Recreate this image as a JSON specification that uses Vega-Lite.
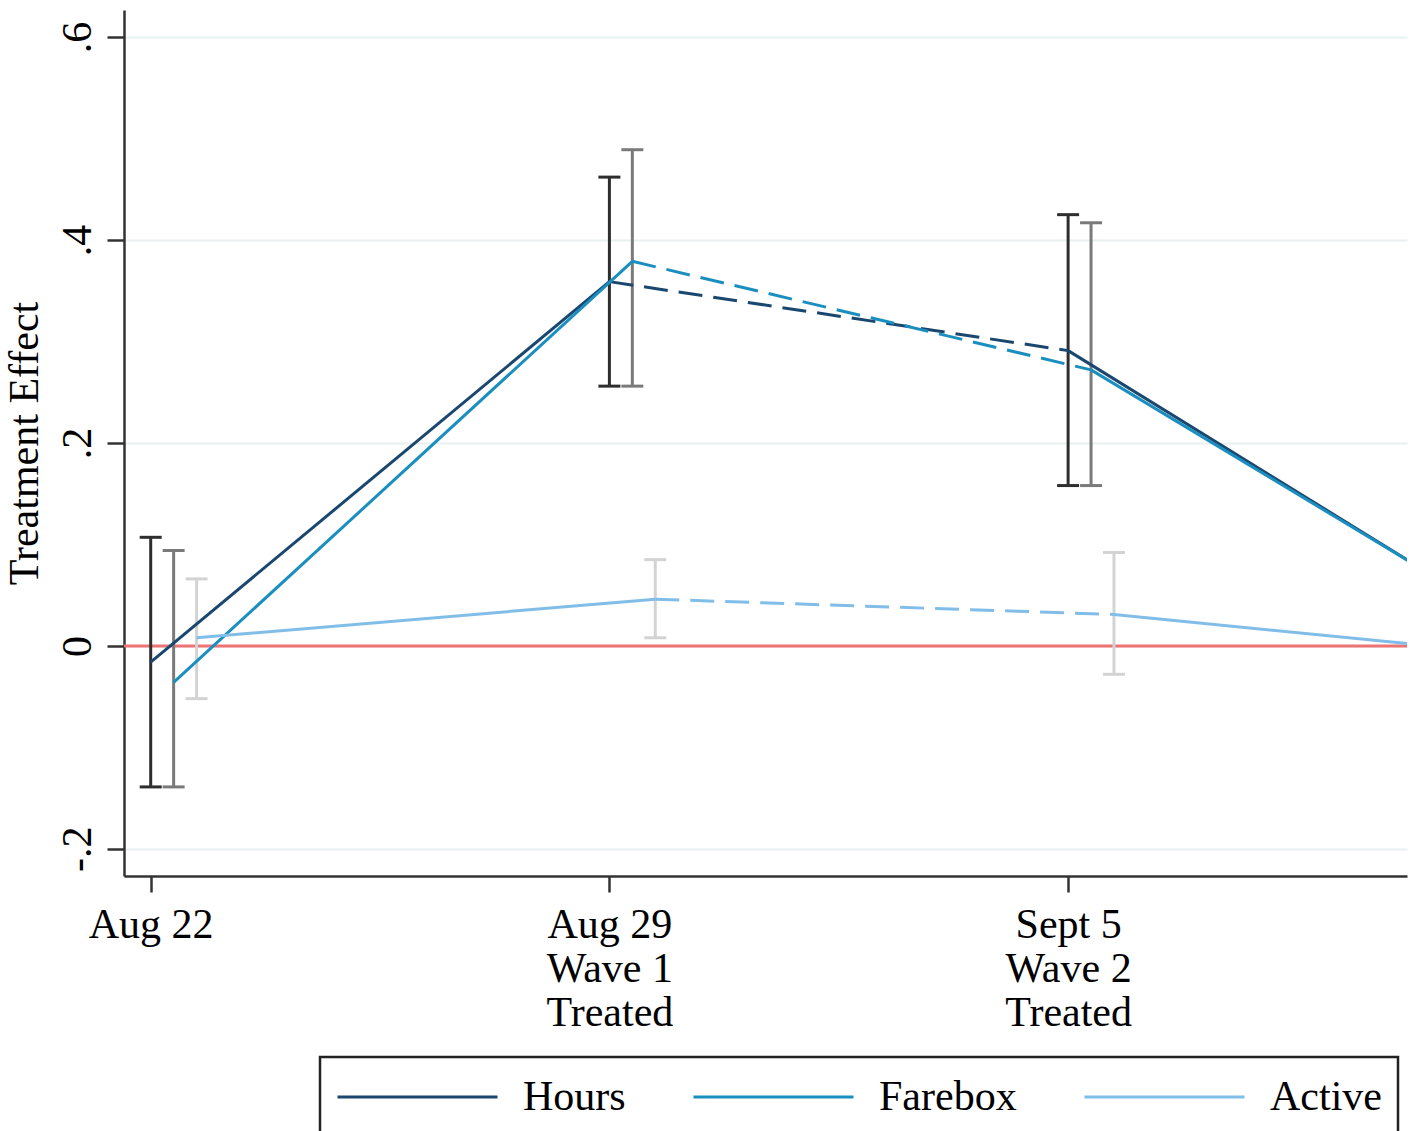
{
  "$schema": "https://vega.github.io/schema/vega-lite/v6.json",
  "width": 1283,
  "height": 866,
  "autosize": {"type": "none"},
  "padding": {"left": 124, "top": 10, "right": 7, "bottom": 255},
  "background": "white",
  "data": {
    "values": [
      {"series": "Hours", "band": "Hours CI", "week": "Aug 22", "half": "pre", "pos": 0, "est": -0.016, "lo": -0.139, "hi": 0.107},
      {"series": "Hours", "band": "Hours CI", "week": "Aug 29", "half": "pre", "pos": 1, "est": 0.359, "lo": 0.256, "hi": 0.462},
      {"series": "Hours", "band": "Hours CI", "week": "Sept 5", "half": "post", "pos": 2, "est": 0.291, "lo": 0.158, "hi": 0.425},
      {"series": "Hours", "band": "Hours CI", "week": "Sept 12", "half": "post", "pos": 3, "est": 0.012, "lo": null, "hi": null},
      {"series": "Farebox", "band": "Farebox CI", "week": "Aug 22", "half": "pre", "pos": 0.05, "est": -0.036, "lo": -0.139, "hi": 0.094},
      {"series": "Farebox", "band": "Farebox CI", "week": "Aug 29", "half": "pre", "pos": 1.05, "est": 0.379, "lo": 0.256, "hi": 0.489},
      {"series": "Farebox", "band": "Farebox CI", "week": "Sept 5", "half": "post", "pos": 2.05, "est": 0.272, "lo": 0.158, "hi": 0.417},
      {"series": "Farebox", "band": "Farebox CI", "week": "Sept 12", "half": "post", "pos": 3.05, "est": 0.0, "lo": null, "hi": null},
      {"series": "Active", "band": "Active CI", "week": "Aug 22", "half": "pre", "pos": 0.1, "est": 0.008, "lo": -0.052, "hi": 0.066},
      {"series": "Active", "band": "Active CI", "week": "Aug 29", "half": "pre", "pos": 1.1, "est": 0.046, "lo": 0.008, "hi": 0.085},
      {"series": "Active", "band": "Active CI", "week": "Sept 5", "half": "post", "pos": 2.1, "est": 0.031, "lo": -0.028, "hi": 0.092},
      {"series": "Active", "band": "Active CI", "week": "Sept 12", "half": "post", "pos": 3.1, "est": -0.014, "lo": null, "hi": null}
    ]
  },
  "layer": [
    {
      "data": {"values": [{"ref": 0}]},
      "mark": {"type": "rule", "color": "#ee7373", "strokeWidth": 3},
      "encoding": {
        "y": {"field": "ref", "type": "quantitative", "title": "Treatment Effect",
          "scale": {"domain": [-0.2268, 0.6267], "nice": false, "zero": false},
          "axis": {"values": [-0.2, 0, 0.2, 0.4, 0.6], "grid": true, "gridColor": "#e8f0f0", "gridWidth": 2, "gridOpacity": 1,
            "tickSize": 17, "labelPadding": 17, "labelAngle": 270, "labelAlign": "center", "labelBaseline": "alphabetic",
            "labelFlush": false, "labelOverlap": false, "labelBound": false, "titlePadding": 10,
            "labelExpr": "datum.value == 0 ? '0' : (datum.value < 0 ? '-' : '') + '.' + format(abs(datum.value) * 10, '.0f')"}}
      }
    },
    {
      "transform": [{"filter": "isValid(datum.lo)"}],
      "mark": {"type": "rule", "strokeWidth": 3, "opacity": 1},
      "encoding": {
        "x": {"field": "pos", "type": "quantitative", "title": null,
          "scale": {"domain": [-0.0582, 2.7388], "nice": false, "zero": false},
          "axis": {"values": [0, 1, 2], "grid": false, "tickSize": 16, "labelPadding": 12, "labelFlush": false, "labelOverlap": false, "labelBound": false,
            "labelBaseline": "top", "labelAlign": "center", "labelLineHeight": 44,
            "labelExpr": "datum.value == 0 ? 'Aug 22' : datum.value == 1 ? ['Aug 29', 'Wave 1', 'Treated'] : ['Sept 5', 'Wave 2', 'Treated']"}},
        "y": {"field": "lo", "type": "quantitative", "title": "Treatment Effect",
          "scale": {"domain": [-0.2268, 0.6267], "nice": false, "zero": false},
          "axis": {"values": [-0.2, 0, 0.2, 0.4, 0.6], "grid": true, "gridColor": "#e8f0f0", "gridWidth": 2, "gridOpacity": 1,
            "tickSize": 17, "labelPadding": 17, "labelAngle": 270, "labelAlign": "center", "labelBaseline": "alphabetic",
            "labelFlush": false, "labelOverlap": false, "labelBound": false, "titlePadding": 10,
            "labelExpr": "datum.value == 0 ? '0' : (datum.value < 0 ? '-' : '') + '.' + format(abs(datum.value) * 10, '.0f')"}},
        "y2": {"field": "hi"},
        "color": {"field": "band", "type": "nominal",
          "scale": {"domain": ["Hours", "Farebox", "Active", "Hours CI", "Farebox CI", "Active CI"], "range": ["#1a476f", "#1b8ec0", "#80bde8", "#2e2e2e", "#7a7a7a", "#d3d3d3"]},
          "legend": {"orient": "none", "legendX": 196, "legendY": 1047, "direction": "horizontal", "title": null,
            "values": ["Hours", "Farebox", "Active"], "symbolType": "stroke", "symbolSize": 25600, "symbolStrokeWidth": 3, "symbolOpacity": 1,
            "clipHeight": 48, "labelOffset": 24, "columnPadding": 66, "padding": 16, "symbolOffset": 0,
            "strokeColor": "#222222", "fillColor": "white", "labelFont": "Liberation Serif", "labelFontSize": 42, "labelColor": "black"}}
      }
    },
    {
      "transform": [{"filter": "isValid(datum.lo)"}],
      "mark": {"type": "tick", "orient": "horizontal", "size": 22, "thickness": 3, "opacity": 1},
      "encoding": {
        "x": {"field": "pos", "type": "quantitative", "title": null,
          "scale": {"domain": [-0.0582, 2.7388], "nice": false, "zero": false},
          "axis": {"values": [0, 1, 2], "grid": false, "tickSize": 16, "labelPadding": 12, "labelFlush": false, "labelOverlap": false, "labelBound": false,
            "labelBaseline": "top", "labelAlign": "center", "labelLineHeight": 44,
            "labelExpr": "datum.value == 0 ? 'Aug 22' : datum.value == 1 ? ['Aug 29', 'Wave 1', 'Treated'] : ['Sept 5', 'Wave 2', 'Treated']"}},
        "y": {"field": "lo", "type": "quantitative", "title": "Treatment Effect",
          "scale": {"domain": [-0.2268, 0.6267], "nice": false, "zero": false},
          "axis": {"values": [-0.2, 0, 0.2, 0.4, 0.6], "grid": true, "gridColor": "#e8f0f0", "gridWidth": 2, "gridOpacity": 1,
            "tickSize": 17, "labelPadding": 17, "labelAngle": 270, "labelAlign": "center", "labelBaseline": "alphabetic",
            "labelFlush": false, "labelOverlap": false, "labelBound": false, "titlePadding": 10,
            "labelExpr": "datum.value == 0 ? '0' : (datum.value < 0 ? '-' : '') + '.' + format(abs(datum.value) * 10, '.0f')"}},
        "color": {"field": "band", "type": "nominal",
          "legend": {"orient": "none", "legendX": 196, "legendY": 1047, "direction": "horizontal", "title": null,
            "values": ["Hours", "Farebox", "Active"], "symbolType": "stroke", "symbolSize": 25600, "symbolStrokeWidth": 3, "symbolOpacity": 1,
            "clipHeight": 48, "labelOffset": 24, "columnPadding": 66, "padding": 16, "symbolOffset": 0,
            "strokeColor": "#222222", "fillColor": "white", "labelFont": "Liberation Serif", "labelFontSize": 42, "labelColor": "black"}}
      }
    },
    {
      "transform": [{"filter": "isValid(datum.hi)"}],
      "mark": {"type": "tick", "orient": "horizontal", "size": 22, "thickness": 3, "opacity": 1},
      "encoding": {
        "x": {"field": "pos", "type": "quantitative", "title": null,
          "scale": {"domain": [-0.0582, 2.7388], "nice": false, "zero": false},
          "axis": {"values": [0, 1, 2], "grid": false, "tickSize": 16, "labelPadding": 12, "labelFlush": false, "labelOverlap": false, "labelBound": false,
            "labelBaseline": "top", "labelAlign": "center", "labelLineHeight": 44,
            "labelExpr": "datum.value == 0 ? 'Aug 22' : datum.value == 1 ? ['Aug 29', 'Wave 1', 'Treated'] : ['Sept 5', 'Wave 2', 'Treated']"}},
        "y": {"field": "hi", "type": "quantitative", "title": "Treatment Effect",
          "scale": {"domain": [-0.2268, 0.6267], "nice": false, "zero": false},
          "axis": {"values": [-0.2, 0, 0.2, 0.4, 0.6], "grid": true, "gridColor": "#e8f0f0", "gridWidth": 2, "gridOpacity": 1,
            "tickSize": 17, "labelPadding": 17, "labelAngle": 270, "labelAlign": "center", "labelBaseline": "alphabetic",
            "labelFlush": false, "labelOverlap": false, "labelBound": false, "titlePadding": 10,
            "labelExpr": "datum.value == 0 ? '0' : (datum.value < 0 ? '-' : '') + '.' + format(abs(datum.value) * 10, '.0f')"}},
        "color": {"field": "band", "type": "nominal",
          "legend": {"orient": "none", "legendX": 196, "legendY": 1047, "direction": "horizontal", "title": null,
            "values": ["Hours", "Farebox", "Active"], "symbolType": "stroke", "symbolSize": 25600, "symbolStrokeWidth": 3, "symbolOpacity": 1,
            "clipHeight": 48, "labelOffset": 24, "columnPadding": 66, "padding": 16, "symbolOffset": 0,
            "strokeColor": "#222222", "fillColor": "white", "labelFont": "Liberation Serif", "labelFontSize": 42, "labelColor": "black"}}
      }
    },
    {
      "transform": [{"filter": {"field": "week", "oneOf": ["Aug 29", "Sept 5"]}}],
      "mark": {"type": "line", "strokeWidth": 3, "strokeDash": [24, 11], "clip": true, "opacity": 1},
      "encoding": {
        "x": {"field": "pos", "type": "quantitative", "title": null,
          "scale": {"domain": [-0.0582, 2.7388], "nice": false, "zero": false},
          "axis": {"values": [0, 1, 2], "grid": false, "tickSize": 16, "labelPadding": 12, "labelFlush": false, "labelOverlap": false, "labelBound": false,
            "labelBaseline": "top", "labelAlign": "center", "labelLineHeight": 44,
            "labelExpr": "datum.value == 0 ? 'Aug 22' : datum.value == 1 ? ['Aug 29', 'Wave 1', 'Treated'] : ['Sept 5', 'Wave 2', 'Treated']"}},
        "y": {"field": "est", "type": "quantitative", "title": "Treatment Effect",
          "scale": {"domain": [-0.2268, 0.6267], "nice": false, "zero": false},
          "axis": {"values": [-0.2, 0, 0.2, 0.4, 0.6], "grid": true, "gridColor": "#e8f0f0", "gridWidth": 2, "gridOpacity": 1,
            "tickSize": 17, "labelPadding": 17, "labelAngle": 270, "labelAlign": "center", "labelBaseline": "alphabetic",
            "labelFlush": false, "labelOverlap": false, "labelBound": false, "titlePadding": 10,
            "labelExpr": "datum.value == 0 ? '0' : (datum.value < 0 ? '-' : '') + '.' + format(abs(datum.value) * 10, '.0f')"}},
        "color": {"field": "series", "type": "nominal",
          "legend": {"orient": "none", "legendX": 196, "legendY": 1047, "direction": "horizontal", "title": null,
            "values": ["Hours", "Farebox", "Active"], "symbolType": "stroke", "symbolSize": 25600, "symbolStrokeWidth": 3, "symbolOpacity": 1,
            "clipHeight": 48, "labelOffset": 24, "columnPadding": 66, "padding": 16, "symbolOffset": 0,
            "strokeColor": "#222222", "fillColor": "white", "labelFont": "Liberation Serif", "labelFontSize": 42, "labelColor": "black"}},
        "detail": {"field": "series"}
      }
    },
    {
      "mark": {"type": "line", "strokeWidth": 3, "clip": true, "opacity": 1},
      "encoding": {
        "x": {"field": "pos", "type": "quantitative", "title": null,
          "scale": {"domain": [-0.0582, 2.7388], "nice": false, "zero": false},
          "axis": {"values": [0, 1, 2], "grid": false, "tickSize": 16, "labelPadding": 12, "labelFlush": false, "labelOverlap": false, "labelBound": false,
            "labelBaseline": "top", "labelAlign": "center", "labelLineHeight": 44,
            "labelExpr": "datum.value == 0 ? 'Aug 22' : datum.value == 1 ? ['Aug 29', 'Wave 1', 'Treated'] : ['Sept 5', 'Wave 2', 'Treated']"}},
        "y": {"field": "est", "type": "quantitative", "title": "Treatment Effect",
          "scale": {"domain": [-0.2268, 0.6267], "nice": false, "zero": false},
          "axis": {"values": [-0.2, 0, 0.2, 0.4, 0.6], "grid": true, "gridColor": "#e8f0f0", "gridWidth": 2, "gridOpacity": 1,
            "tickSize": 17, "labelPadding": 17, "labelAngle": 270, "labelAlign": "center", "labelBaseline": "alphabetic",
            "labelFlush": false, "labelOverlap": false, "labelBound": false, "titlePadding": 10,
            "labelExpr": "datum.value == 0 ? '0' : (datum.value < 0 ? '-' : '') + '.' + format(abs(datum.value) * 10, '.0f')"}},
        "color": {"field": "series", "type": "nominal",
          "legend": {"orient": "none", "legendX": 196, "legendY": 1047, "direction": "horizontal", "title": null,
            "values": ["Hours", "Farebox", "Active"], "symbolType": "stroke", "symbolSize": 25600, "symbolStrokeWidth": 3, "symbolOpacity": 1,
            "clipHeight": 48, "labelOffset": 24, "columnPadding": 66, "padding": 16, "symbolOffset": 0,
            "strokeColor": "#222222", "fillColor": "white", "labelFont": "Liberation Serif", "labelFontSize": 42, "labelColor": "black"}},
        "detail": {"field": "half"}
      }
    }
  ],
  "config": {
    "view": {"stroke": null},
    "font": "Liberation Serif",
    "axis": {
      "domainColor": "#333333", "domainWidth": 2.5, "tickColor": "#333333", "tickWidth": 2.5,
      "labelFont": "Liberation Serif", "labelFontSize": 42, "labelColor": "black",
      "titleFont": "Liberation Serif", "titleFontSize": 42, "titleFontWeight": "normal", "titleColor": "black"
    },
    "legend": {"strokeWidth": 2.5}
  }
}
